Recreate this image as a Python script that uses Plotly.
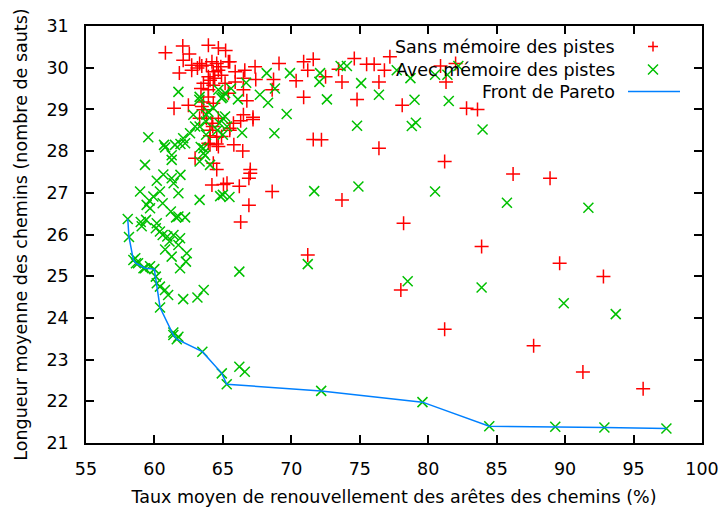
import plotly.graph_objects as go

# Sans mémoire des pistes
sans_x = [80.9, 82.0, 81.3, 82.8, 83.6, 81.2, 86.2, 88.9, 83.9, 89.6, 92.8, 87.7, 91.3, 95.7,
          66.3, 78.2, 71.2, 78.0, 81.2,
          65.2, 65.5, 69.1, 70.9, 71.6, 71.2, 67.35, 66.6, 65.9, 67.4, 68.7, 70.35, 72.5, 73.45,
          74.6, 75.5, 76.05, 77.2, 76.8, 76.4, 73.7, 68.6, 66.75, 70.9, 74.8, 78.1, 66.3, 67.2,
          67.2, 65.5, 71.6, 72.2, 76.4, 65.8, 66.45, 67.0, 67.0, 66.9, 65.3, 64.2, 66.2, 68.6,
          73.7, 66.9,
          63.94, 64.67, 63.3, 63.8, 64.2, 64.55, 65.4, 64.85, 64.3, 64.67, 63.94, 64.4, 64.9,
          66.5, 63.58, 64.3, 65.16, 65.9, 63.4, 65.4, 66.5, 63.94, 63.58, 64.3, 63.58, 63.8,
          64.2, 65.5, 65.77, 66.5, 64.06, 64.55, 63.94, 64.67,
          60.8, 62.07, 62.55, 62.1, 62.72, 63.14, 63.46, 62.72, 61.82, 64.06, 62.48, 61.43,
          63.46, 63.94, 63.3, 64.26, 64.67, 64.9, 64.06, 64.55,
          62.97, 64.3, 64.55, 65.04, 64.06]
sans_y = [30.04, 30.1, 29.66, 29.03, 29.0, 27.75, 27.45, 27.35, 25.71, 25.31, 24.99, 23.33, 22.7, 22.3,
          26.3, 26.27, 25.51, 24.67, 23.73,
          30.41, 30.14, 30.1, 30.14, 30.2, 29.94, 30.02, 29.94, 29.9, 29.72, 29.72, 29.69, 29.78, 29.96,
          30.22, 30.08, 30.08, 30.26, 29.94, 29.66, 29.66, 29.47, 29.21, 29.29, 29.24, 29.1, 28.73, 28.81,
          28.76, 28.55, 28.28, 28.27, 28.07, 28.15, 28.0, 27.56, 27.47, 27.35, 27.23, 27.19, 27.16, 27.03,
          26.83, 26.7,
          30.54, 30.47, 30.1, 30.06, 30.14, 30.1, 30.14, 30.02, 29.9, 29.94, 29.78, 29.75, 29.82,
          29.75, 29.63, 29.58, 29.63, 29.66, 29.5, 29.39, 29.47, 29.3, 29.18, 29.15, 28.99, 28.79,
          28.67, 28.5, 28.67, 28.87, 28.5, 28.33, 28.19, 28.11,
          30.36, 30.52, 30.33, 30.18, 30.06, 29.99, 30.04, 29.94, 29.87, 29.7, 29.1, 29.03,
          29.07, 29.47, 28.79, 28.59, 28.79, 28.35, 28.37, 28.17,
          27.83, 27.71, 27.56, 27.2, 28.15]

# Avec mémoire des pistes (hors front de Pareto)
avec_x = [83.97, 81.5, 80.5, 81.4, 82.2, 79.0, 78.8, 79.1, 80.5, 85.75, 91.7, 83.9, 89.9, 93.7,
          66.2, 71.2, 78.5, 66.2, 66.6,
          68.2, 69.9, 72.1, 72.05, 73.6, 74.06, 75.1, 76.4, 77.7, 78.7, 72.6, 69.66, 74.8, 68.76,
          66.4, 74.9, 71.67, 65.48, 65.0, 68.3, 67.7, 68.8, 66.1, 66.7, 65.6, 65.0, 65.0, 65.3, 64.6,
          64.67, 64.9, 65.16, 64.75, 64.3, 63.8, 63.3, 63.77, 63.58, 63.7, 63.3, 61.75, 63.28,
          65.16, 62.84, 63.94, 62.97, 63.77, 62.6, 62.1, 59.55, 60.7, 61.5, 63.38, 61.9, 65.0,
          60.78, 61.26, 62.24, 61.26, 63.58, 63.3, 64.06, 59.31, 60.65, 60.17, 61.26, 61.9, 61.4,
          58.95, 60.4, 59.92, 59.63, 61.75, 63.3, 59.43, 59.68, 60.6, 61.2, 61.58, 62.24, 61.75,
          59.0, 59.39, 60.17, 59.07, 60.1, 60.4, 60.94, 60.6, 61.39, 61.1, 61.87, 64.8,
          60.78, 61.75, 61.26, 62.36, 62.3, 61.87, 58.6, 58.8, 59.2, 59.68, 60.1, 60.17, 60.4,
          60.77, 61.0, 62.1, 63.14, 63.6, 61.75, 61.38]
avec_y = [28.52, 29.2, 29.83, 29.83, 30.04, 29.23, 28.6, 28.68, 27.03, 26.76, 26.64, 24.73, 24.35, 24.09,
          25.11, 25.29, 24.88, 22.83, 22.71,
          29.87, 29.87, 29.87, 29.66, 30.04, 30.04, 29.63, 29.35, 29.94, 29.75, 29.24, 28.89, 28.61, 28.43,
          28.44, 27.15, 27.04, 26.9, 26.95, 29.16, 29.35, 29.5, 29.24, 29.64, 29.5, 29.3, 28.79, 28.59, 28.5,
          29.47, 29.27, 28.83, 28.67, 29.03, 28.87, 28.59, 28.39, 28.07, 27.9, 29.3, 29.42, 29.23,
          29.39, 28.87, 28.94, 28.59, 28.71, 28.43, 28.31, 28.33, 28.15, 28.15, 28.1, 28.17, 28.39,
          28.09, 27.9, 28.19, 27.79, 27.95, 27.75, 27.67, 27.67, 27.44, 27.29, 27.35, 27.43, 27.23,
          27.03, 27.03, 26.91, 26.81, 26.99, 26.83, 26.71, 26.63, 26.75, 26.55, 26.41, 26.41, 26.43,
          26.3, 26.35, 26.27, 26.2, 26.15, 26.07, 25.95, 25.99, 25.99, 25.83, 25.91, 26.92,
          25.64, 25.75, 25.47, 25.55, 25.35, 25.19, 25.43, 25.31, 25.19, 25.24, 24.99, 24.83, 24.75,
          24.67, 24.55, 24.45, 24.49, 24.67, 23.55, 23.65]

# Front de Pareto (solutions avec mémoire non dominées)
pareto_x = [58.05, 58.14, 58.46, 58.65, 59.31, 59.99, 60.41, 61.38, 61.63, 63.5, 64.92, 65.28,
            72.18, 79.58, 84.46, 89.28, 92.87, 97.4]
pareto_y = [26.37, 25.94, 25.39, 25.31, 25.19, 25.17, 24.25, 23.59, 23.49, 23.19, 22.67, 22.41,
            22.25, 21.98, 21.4, 21.39, 21.37, 21.35]

labels = ["Sans mémoire des pistes", "Avec mémoire des pistes", "Front de Pareto"]

RED = "#ff0000"
GREEN = "#00c000"
BLUE = "#0080ff"
FONT = "DejaVu Sans"
FS = 17.5

fig = go.Figure()
fig.add_trace(go.Scatter(
    x=sans_x, y=sans_y, mode="markers", name=labels[0],
    marker=dict(symbol="cross-thin", size=10, line=dict(color=RED, width=1.5)),
))
fig.add_trace(go.Scatter(
    x=avec_x + pareto_x, y=avec_y + pareto_y, mode="markers", name=labels[1],
    marker=dict(symbol="x-thin", size=10, line=dict(color=GREEN, width=1.5)),
))
fig.add_trace(go.Scatter(
    x=pareto_x, y=pareto_y, mode="lines", name=labels[2],
    line=dict(color=BLUE, width=1.5),
))

# Plot area in pixels (for placing the gnuplot-style key)
L, R, T, B = 86, 21, 26, 64
W, H = 723, 507
pw, ph = W - L - R, H - T - B

def px(x):
    return (x - L) / pw

def py(y):
    return (H - B - y) / ph

rows = [46.5, 69.5, 91.5]
text_right = 617
sample_x = 653
d = 5

annotations = []
shapes = []
for lab, yrow in zip(labels, rows):
    annotations.append(dict(
        x=px(text_right), y=py(yrow), xref="paper", yref="paper",
        text=lab, showarrow=False, xanchor="right", yanchor="middle",
        font=dict(family=FONT, size=FS, color="black"),
    ))

# key samples
shapes.append(dict(type="path", xref="paper", yref="paper",
                   path=f"M {px(sample_x-d)},{py(rows[0])} L {px(sample_x+d)},{py(rows[0])} "
                        f"M {px(sample_x)},{py(rows[0]-d)} L {px(sample_x)},{py(rows[0]+d)}",
                   line=dict(color=RED, width=1.5)))
shapes.append(dict(type="path", xref="paper", yref="paper",
                   path=f"M {px(sample_x-d)},{py(rows[1]-d)} L {px(sample_x+d)},{py(rows[1]+d)} "
                        f"M {px(sample_x-d)},{py(rows[1]+d)} L {px(sample_x+d)},{py(rows[1]-d)}",
                   line=dict(color=GREEN, width=1.5)))
shapes.append(dict(type="line", xref="paper", yref="paper",
                   x0=px(628), x1=px(680), y0=py(rows[2]), y1=py(rows[2]),
                   line=dict(color=BLUE, width=1.5)))

axis_common = dict(
    showgrid=False, zeroline=False, showline=True, linecolor="black", linewidth=1.5,
    mirror="ticks", ticks="inside", ticklen=8, tickwidth=1.5, tickcolor="black",
    tickfont=dict(family=FONT, size=FS, color="black"), automargin=False,
)

fig.update_layout(
    width=W, height=H,
    margin=dict(l=L, r=R, t=T, b=B, autoexpand=False),
    paper_bgcolor="white", plot_bgcolor="white",
    showlegend=False,
    annotations=annotations,
    shapes=shapes,
    xaxis=dict(range=[55, 100], dtick=5, tick0=55, ticklabelstandoff=9,
               title=dict(text="Taux moyen de renouvellement des arêtes des chemins (%)",
                          font=dict(family=FONT, size=FS, color="black"), standoff=16),
               **axis_common),
    yaxis=dict(range=[21, 31], dtick=1, tick0=21, ticklabelstandoff=12,
               title=dict(text="Longueur moyenne des chemins (nombre de sauts)",
                          font=dict(family=FONT, size=FS, color="black"), standoff=14),
               **axis_common),
)

fig.write_html("out.html")
